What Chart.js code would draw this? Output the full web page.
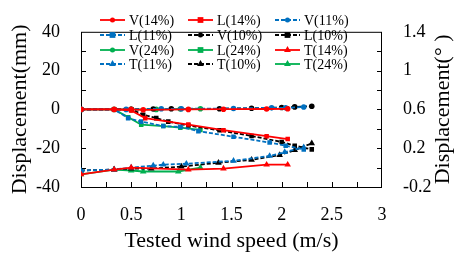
<!DOCTYPE html>
<html>
<head>
<meta charset="utf-8">
<script src="https://cdn.jsdelivr.net/npm/chart.js@4/dist/chart.umd.min.js"></script>
<style>
  html, body { margin: 0; padding: 0; background: #fff; }
  #wrap { width: 461px; height: 258px; }
</style>
</head>
<body>
<div id="wrap"><canvas id="chart" width="461" height="258"></canvas></div>
<script>
// --- data ---
const xTicks = [0, 0.5, 1, 1.5, 2, 2.5, 3];
const leftTicks = [-40, -20, 0, 20, 40];
const rightTicks = [-0.2, 0.2, 0.6, 1, 1.4];

// vertical displacement (mm)
const v14Speed = [0, 0.33, 0.5, 0.62, 1.07, 1.42, 1.85, 2.06];
const v14Disp = [0, 0, 0, -0.2, 0, 0.1, 0.2, 0.3];
const v11Speed = [0, 0.45, 0.8, 1.0, 1.52, 1.9, 2.04, 2.22];
const v11Disp = [0, 0, 0.3, 0.3, 0.5, 0.8, 0.8, 1.2];
const v10Speed = [0, 0.5, 0.72, 0.9, 1.38, 1.7, 2.0, 2.13, 2.3];
const v10Disp = [0, 0, 0.2, 0.3, 0.3, 0.6, 1.0, 1.3, 1.6];
const v24Speed = [0, 0.33, 0.5, 0.75, 0.99, 1.19];
const v24Disp = [0, 0, 0, 0, 0.2, 0.3];

// lateral displacement (mm)
const l14Speed = [0, 0.33, 0.5, 0.64, 1.07, 1.42, 1.85, 2.06];
const l14Disp = [0, 0, -0.5, -4.5, -7.8, -10.7, -13.8, -15.3];
const l11Speed = [0, 0.33, 0.47, 0.6, 0.82, 0.99, 1.17, 1.52, 1.88, 2.04, 2.22];
const l11Disp = [0, 0, -4.5, -6.3, -8.6, -9.0, -11.2, -14.1, -17.1, -18.7, -20.6];
const l10Speed = [0, 0.5, 0.62, 0.75, 0.87, 1.07, 1.38, 1.7, 2.0, 2.13, 2.3];
const l10Disp = [0, 0, -2.7, -4.5, -6.3, -8.3, -10.8, -13.7, -16.8, -18.7, -20.6];
const l24Speed = [0, 0.33, 0.47, 0.6, 0.82, 0.99, 1.19];
const l24Disp = [0, 0, -4.0, -7.9, -8.6, -9.4, -10.6];

// torsional displacement (deg, right axis)
const t14Speed = [0, 0.33, 0.5, 1.07, 1.42, 1.85, 2.06];
const t14Disp = [-0.07, -0.02, 0.0, -0.02, -0.01, 0.03, 0.03];
const t11Speed = [0, 0.33, 0.5, 0.72, 0.82, 1.05, 1.52, 1.88, 2.03, 2.22];
const t11Disp = [-0.03, -0.02, 0.0, 0.02, 0.03, 0.04, 0.07, 0.12, 0.16, 0.21];
const t10Speed = [0, 0.33, 0.5, 0.7, 1.0, 1.37, 1.7, 1.98, 2.13, 2.3];
const t10Disp = [-0.03, -0.02, -0.01, -0.01, 0.01, 0.05, 0.08, 0.13, 0.18, 0.25];
const t24Speed = [0, 0.33, 0.5, 0.62, 0.97, 1.19];
const t24Disp = [-0.07, -0.02, -0.03, -0.04, -0.04, 0.0];

const RED = "#FF0000", BLUE = "#0070C0", BLACK = "#000000", GREEN = "#00B050";
const FONT = "'Liberation Serif', 'Times New Roman', serif";

function pts(xs, ys) {
  return xs.map((x, i) => ({ x: x, y: ys[i] }));
}

function serie(label, xs, ys, color, style, dash, axis) {
  const r = style === "circle" ? 2.8 : style === "rect" ? 3.2 : 3.8;
  return {
    label: label,
    data: pts(xs, ys),
    borderColor: color,
    backgroundColor: color,
    borderWidth: 1.8,
    borderDash: dash,
    pointStyle: style,
    pointRadius: r,
    pointBorderWidth: 0,
    pointBackgroundColor: color,
    yAxisID: axis,
    tension: 0
  };
}

const DASH = [4, 2];

const datasets = [
  serie("V(14%)", v14Speed, v14Disp, RED, "circle", [], "y"),
  serie("L(14%)", l14Speed, l14Disp, RED, "rect", [], "y"),
  serie("V(11%)", v11Speed, v11Disp, BLUE, "circle", DASH, "y"),
  serie("L(11%)", l11Speed, l11Disp, BLUE, "rect", DASH, "y"),
  serie("V(10%)", v10Speed, v10Disp, BLACK, "circle", DASH, "y"),
  serie("L(10%)", l10Speed, l10Disp, BLACK, "rect", DASH, "y"),
  serie("V(24%)", v24Speed, v24Disp, GREEN, "circle", [], "y"),
  serie("L(24%)", l24Speed, l24Disp, GREEN, "rect", [], "y"),
  serie("T(14%)", t14Speed, t14Disp, RED, "triangle", [], "y1"),
  serie("T(11%)", t11Speed, t11Disp, BLUE, "triangle", DASH, "y1"),
  serie("T(10%)", t10Speed, t10Disp, BLACK, "triangle", DASH, "y1"),
  serie("T(24%)", t24Speed, t24Disp, GREEN, "triangle", [], "y1")
];

function marker(ctx, style, x, y, r) {
  ctx.beginPath();
  if (style === "circle") {
    ctx.arc(x, y, r, 0, Math.PI * 2);
  } else if (style === "rect") {
    ctx.rect(x - r, y - r, 2 * r, 2 * r);
  } else {
    ctx.moveTo(x, y - r * 1.15);
    ctx.lineTo(x + r, y + r * 0.6);
    ctx.lineTo(x - r, y + r * 0.6);
    ctx.closePath();
  }
  ctx.fill();
}

// frame + inward ticks, right title, custom legend
const framePlugin = {
  id: "frame",
  beforeDatasetsDraw(chart) {
    const { ctx, chartArea: a, scales } = chart;
    ctx.save();
    ctx.strokeStyle = "#000";
    ctx.lineWidth = 1;
    ctx.strokeRect(a.left + 0.5, a.top + 0.5, a.right - a.left - 1, a.bottom - a.top);
    ctx.beginPath();
    for (let v = 0.25; v < 3; v += 0.25) {
      const px = Math.round(scales.x.getPixelForValue(v)) + 0.5;
      ctx.moveTo(px, a.bottom);
      ctx.lineTo(px, a.bottom - 5);
    }
    for (let v = -30; v < 40; v += 10) {
      const py = Math.round(scales.y.getPixelForValue(v)) + 0.5;
      ctx.moveTo(a.left, py);
      ctx.lineTo(a.left + 5, py);
    }
    for (let v = 0; v < 1.4; v += 0.2) {
      const py = Math.round(scales.y1.getPixelForValue(v)) + 0.5;
      ctx.moveTo(a.right, py);
      ctx.lineTo(a.right - 5, py);
    }
    ctx.stroke();

    // right axis title, reading bottom to top
    ctx.fillStyle = "#000";
    ctx.font = "22px " + FONT;
    ctx.textAlign = "center";
    ctx.textBaseline = "middle";
    ctx.translate(443, (a.top + a.bottom) / 2);
    ctx.rotate(-Math.PI / 2);
    ctx.fillText("Displacement(\u00B0 )", 0, 0);
    ctx.restore();
  },
  afterDraw(chart) {
    const ctx = chart.ctx;
    const cols = [100, 188, 275];
    const rows = [20, 35, 50, 64];
    ctx.save();
    ctx.font = "14px " + FONT;
    ctx.textBaseline = "middle";
    ctx.textAlign = "left";
    chart.data.datasets.forEach((ds, i) => {
      const x = cols[i % 3], y = rows[Math.floor(i / 3)];
      ctx.strokeStyle = ds.borderColor;
      ctx.fillStyle = ds.borderColor;
      ctx.lineWidth = 1.8;
      ctx.setLineDash(ds.borderDash);
      ctx.beginPath();
      ctx.moveTo(x, y);
      ctx.lineTo(x + 25, y);
      ctx.stroke();
      ctx.setLineDash([]);
      marker(ctx, ds.pointStyle, x + 12.5, y, ds.pointRadius * 0.9);
      ctx.fillStyle = "#000";
      ctx.fillText(ds.label, x + 29, y + 1);
    });
    ctx.restore();
  }
};

const fmt = v => String(Math.round(v * 10) / 10);

new Chart(document.getElementById("chart"), {
  type: "line",
  data: { datasets: datasets },
  options: {
    responsive: false,
    animation: false,
    layout: { padding: { top: 12, left: 0, right: 0, bottom: 0 } },
    plugins: { legend: { display: false }, tooltip: { enabled: false } },
    scales: {
      x: {
        type: "linear",
        min: 0,
        max: 3,
        afterFit: s => { s.height = 71; },
        afterBuildTicks: s => { s.ticks = xTicks.map(v => ({ value: v })); },
        grid: { display: false, drawTicks: false },
        border: { display: false },
        ticks: { color: "#000", font: { family: FONT, size: 18 }, padding: 17, maxRotation: 0, callback: fmt },
        title: { display: true, text: "Tested wind speed (m/s)", color: "#000",
                 font: { family: FONT, size: 22 }, padding: { top: 0, bottom: 4 } }
      },
      y: {
        position: "left",
        min: -40,
        max: 40,
        afterFit: s => { s.width = 81; },
        afterBuildTicks: s => { s.ticks = leftTicks.map(v => ({ value: v })); },
        grid: { display: false, drawTicks: false },
        border: { display: false },
        ticks: { color: "#000", font: { family: FONT, size: 18 }, padding: 21, callback: fmt },
        title: { display: true, text: "Displacement(mm)", color: "#000",
                 font: { family: FONT, size: 22 }, padding: { top: 7, bottom: 0 } }
      },
      y1: {
        position: "right",
        min: -0.2,
        max: 1.4,
        afterFit: s => { s.width = 79; },
        afterBuildTicks: s => { s.ticks = rightTicks.map(v => ({ value: v })); },
        grid: { display: false, drawTicks: false },
        border: { display: false },
        ticks: { color: "#000", font: { family: FONT, size: 18 }, padding: 21, callback: fmt }
      }
    }
  },
  plugins: [framePlugin]
});
</script>
</body>
</html>
